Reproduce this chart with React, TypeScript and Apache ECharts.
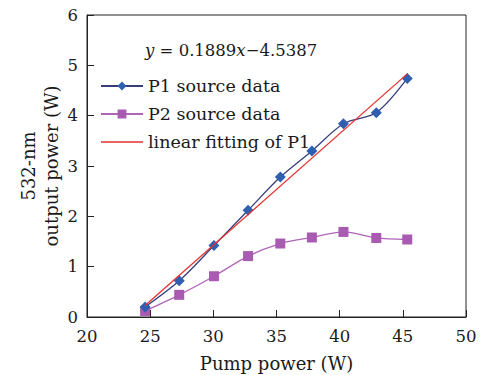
import React, { useEffect, useRef } from "react";
import * as echarts from "echarts";

const p1X = [24.6, 27.3, 30.05, 32.75, 35.3, 37.8, 40.3, 42.9, 45.35];
const p1Y = [0.2, 0.72, 1.42, 2.12, 2.78, 3.3, 3.84, 4.06, 4.74];
const p2X = [24.6, 27.3, 30.05, 32.75, 35.3, 37.8, 40.3, 42.9, 45.35];
const p2Y = [0.12, 0.44, 0.81, 1.21, 1.46, 1.58, 1.69, 1.57, 1.54];
const fitX = [24.6, 45.4];
const fitY = [0.23, 4.84];
const seriesNames = ["P1 source data", "P2 source data", "linear fitting of P1"];

const FONT = "DejaVu Serif";
const INK = "#1a1a1a";
const LINE_ICON =
  "path://M0,0L0.05,0L0.05,0.05Z M0,4.85L42,4.85L42,6.15L0,6.15Z M41.95,10.95L42,10.95L42,11Z";

export default function App() {
  const ref = useRef<HTMLDivElement>(null);
  useEffect(() => {
    const chart = echarts.init(ref.current!, null, { renderer: "svg" });
    chart.setOption({
      animation: false,
      textStyle: { fontFamily: FONT },
      grid: {
        left: 87,
        right: 15,
        top: 15,
        bottom: 58,
        outerBoundsMode: "none",
        containLabel: false,
        show: true,
        borderColor: "#222",
        borderWidth: 1,
      },
      title: {
        left: 140,
        top: 37,
        text: "{i|y} = 0.1889{i|x}\u22124.5387",
        textStyle: {
          fontFamily: FONT,
          fontSize: 16.5,
          fontWeight: "normal",
          color: INK,
          rich: {
            i: { fontFamily: FONT, fontStyle: "italic", fontSize: 16.5, color: INK },
          },
        },
      },
      legend: {
        orient: "vertical",
        left: 95,
        top: 72,
        itemWidth: 42,
        itemHeight: 11,
        itemGap: 10,
        data: [
          seriesNames[0],
          seriesNames[1],
          {
            name: seriesNames[2],
            icon: LINE_ICON,
            itemStyle: { color: "#e8302e", borderWidth: 0 },
          },
        ],
        textStyle: { fontFamily: FONT, fontSize: 17.5, color: INK },
      },
      xAxis: {
        type: "value",
        min: 20,
        max: 50,
        interval: 5,
        name: "Pump power (W)",
        nameLocation: "middle",
        nameGap: 37,
        nameMoveOverlap: false,
        nameTextStyle: { fontFamily: FONT, fontSize: 18, color: INK },
        axisLine: { lineStyle: { color: "#222" } },
        axisTick: { inside: true, length: 7, lineStyle: { color: "#222" } },
        axisLabel: { fontFamily: FONT, fontSize: 16.5, color: INK, margin: 11 },
        splitLine: { show: false },
      },
      yAxis: {
        type: "value",
        min: 0,
        max: 6,
        interval: 1,
        name: "532-nm\noutput power (W)",
        nameLocation: "middle",
        nameGap: 24,
        nameMoveOverlap: false,
        nameTextStyle: { fontFamily: FONT, fontSize: 18, color: INK, lineHeight: 23 },
        axisLine: { lineStyle: { color: "#222" } },
        axisTick: { inside: true, length: 7, lineStyle: { color: "#222" } },
        axisLabel: { fontFamily: FONT, fontSize: 16.5, color: INK, margin: 9 },
        splitLine: { show: false },
      },
      series: [
        {
          name: seriesNames[0],
          type: "line",
          smooth: 0.3,
          data: p1X.map((x, i) => [x, p1Y[i]]),
          symbol: "diamond",
          symbolSize: 11,
          itemStyle: { color: "#2f5fae" },
          lineStyle: { color: "#363f7c", width: 1.3 },
          z: 4,
        },
        {
          name: seriesNames[1],
          type: "line",
          smooth: 0.3,
          data: p2X.map((x, i) => [x, p2Y[i]]),
          symbol: "rect",
          symbolSize: 10,
          itemStyle: { color: "#a85bb0" },
          lineStyle: { color: "#b064b8", width: 1.3 },
          z: 3,
        },
        {
          name: seriesNames[2],
          type: "line",
          data: fitX.map((x, i) => [x, fitY[i]]),
          symbol: "none",
          itemStyle: { color: "#e8302e" },
          lineStyle: { color: "#e8302e", width: 1.3 },
          z: 5,
        },
      ],
    });
    return () => chart.dispose();
  }, []);
  return (
    <div
      ref={ref}
      style={{ position: "absolute", left: 0, top: 0, width: 481, height: 375 }}
    />
  );
}
